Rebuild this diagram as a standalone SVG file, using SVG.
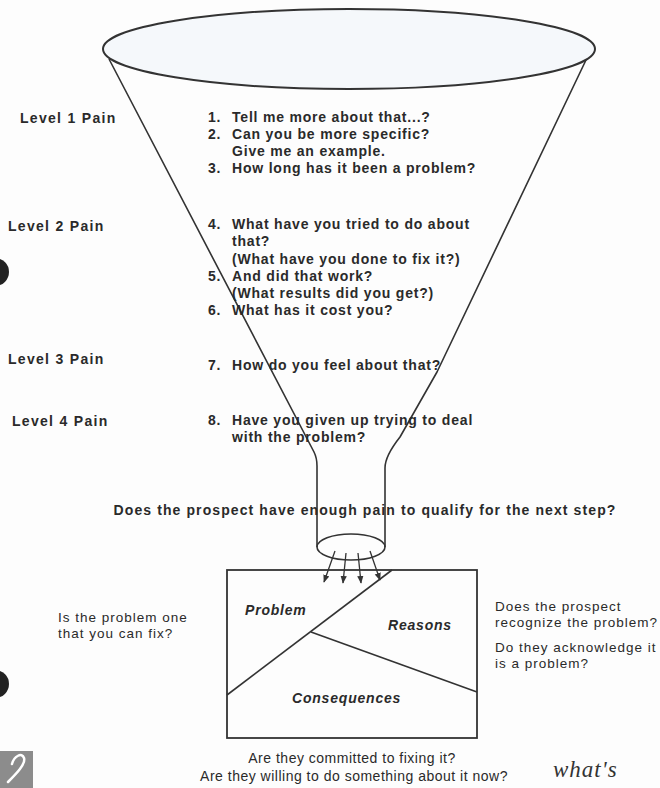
<svg xmlns="http://www.w3.org/2000/svg" width="660" height="788" viewBox="0 0 660 788">
<style>
.t{font-family:"Liberation Sans",Arial,sans-serif;font-size:14px;fill:#2a2a2a;letter-spacing:0.8px}
.s{font-size:13.5px;letter-spacing:1px}
.b{font-weight:bold}
.bi{font-weight:bold;font-style:italic}
.lv{letter-spacing:1.3px}
.ln{fill:none;stroke:#333;stroke-width:1.6;stroke-linejoin:round}
.ar{fill:none;stroke:#333;stroke-width:1.3}
</style>
<defs>
<marker id="ah" viewBox="0 0 10 10" refX="9" refY="5" markerWidth="6" markerHeight="6" orient="auto">
<path d="M0,1 L10,5 L0,9 z" fill="#333"/>
</marker>
</defs>
<rect width="660" height="788" fill="#fdfdfd"/>

<g id="funnel">
<ellipse cx="349" cy="49" rx="246" ry="40" fill="#f5f8fb" stroke="#333" stroke-width="2"/>
<path class="ln" d="M109 59 L314 452 Q317 458 317 466 L317 547"/>
<path class="ln" d="M586 60 L437 372 L400 437 Q385 456 385 468 L385 547"/>
<ellipse cx="351" cy="547" rx="34" ry="13" fill="none" stroke="#333" stroke-width="1.6"/>
</g>

<g id="levels" class="t b lv">
<text x="20" y="123">Level 1 Pain</text>
<text x="8" y="231">Level 2 Pain</text>
<text x="8" y="364">Level 3 Pain</text>
<text x="12" y="426">Level 4 Pain</text>
</g>

<g id="questions" class="t b">
<text x="208" y="122">1.</text><text x="232" y="122">Tell me more about that...?</text>
<text x="208" y="139">2.</text><text x="232" y="139">Can you be more specific?</text>
<text x="232" y="156">Give me an example.</text>
<text x="208" y="173">3.</text><text x="232" y="173">How long has it been a problem?</text>
<text x="208" y="229">4.</text><text x="232" y="229">What have you tried to do about</text>
<text x="232" y="246">that?</text>
<text x="232" y="264">(What have you done to fix it?)</text>
<text x="208" y="281">5.</text><text x="232" y="281">And did that work?</text>
<text x="232" y="298">(What results did you get?)</text>
<text x="208" y="315">6.</text><text x="232" y="315">What has it cost you?</text>
<text x="208" y="370">7.</text><text x="232" y="370">How do you feel about that?</text>
<text x="208" y="425">8.</text><text x="232" y="425">Have you given up trying to deal</text>
<text x="232" y="442">with the problem?</text>
</g>

<g id="qualify" class="t b">
<text x="365" y="515" text-anchor="middle" style="letter-spacing:1.1px">Does the prospect have enough pain to qualify for the next step?</text>
</g>

<g id="pain-box">
<rect x="227" y="570" width="250" height="168" fill="none" stroke="#333" stroke-width="1.8"/>
<path class="ln" d="M227 695 L392 570"/>
<path class="ln" d="M311 632 L477 692"/>
<text class="t bi" x="245" y="615">Problem</text>
<text class="t bi" x="388" y="630">Reasons</text>
<text class="t bi" x="292" y="703">Consequences</text>
</g>

<g id="connectors">
<path class="ar" d="M335 551 L324 582" marker-end="url(#ah)"/>
<path class="ar" d="M346 553 L343 583" marker-end="url(#ah)"/>
<path class="ar" d="M358 553 L361 583" marker-end="url(#ah)"/>
<path class="ar" d="M370 551 L380 580" marker-end="url(#ah)"/>
</g>

<g id="side-notes" class="t">
<text class="s" x="58" y="622">Is the problem one</text>
<text class="s" x="58" y="638">that you can fix?</text>
<text class="s" x="495" y="611">Does the prospect</text>
<text class="s" x="495" y="627">recognize the problem?</text>
<text class="s" x="495" y="652">Do they acknowledge it</text>
<text class="s" x="495" y="668">is a problem?</text>
<text x="352" y="763" text-anchor="middle" style="letter-spacing:0.5px">Are they committed to fixing it?</text>
<text x="354" y="781" text-anchor="middle" style="letter-spacing:0.5px">Are they willing to do something about it now?</text>
</g>

<g id="marks">
<circle cx="-5" cy="272" r="14" fill="#222"/>
<circle cx="-5" cy="684" r="14" fill="#222"/>
<rect x="0" y="751" width="33" height="37" fill="#8c8c8c"/>
<path d="M8 782 C16 774 26 764 24 758 C22 752 14 756 12 764" fill="none" stroke="#fff" stroke-width="2.5" stroke-linecap="round"/>
<text x="553" y="777" style="font-family:'Liberation Serif',serif;font-style:italic;font-size:23px;fill:#333;letter-spacing:1px">what's</text>
</g>
</svg>
